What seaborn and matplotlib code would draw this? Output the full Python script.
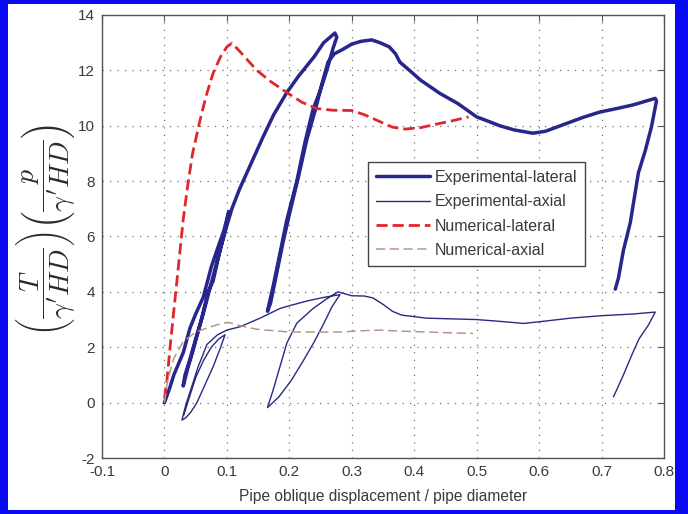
import matplotlib
matplotlib.use("Agg")
import matplotlib.pyplot as plt
from matplotlib.patches import Rectangle
import seaborn as sns

# Axis ticks and labels
x_ticks = [-0.1, 0.0, 0.1, 0.2, 0.3, 0.4, 0.5, 0.6, 0.7, 0.8]
x_tick_labels = ["-0.1", "0", "0.1", "0.2", "0.3", "0.4", "0.5", "0.6", "0.7", "0.8"]
y_ticks = [-2, 0, 2, 4, 6, 8, 10, 12, 14]
y_tick_labels = ["-2", "0", "2", "4", "6", "8", "10", "12", "14"]

# Experimental lateral test (load / unload / reload cycles)
exp_lat_x = [0.000, 0.008, 0.015, 0.030, 0.041, 0.050, 0.062, 0.068, 0.075, 0.084, 0.095, 0.103,
             0.099, 0.089, 0.076, 0.062, 0.050, 0.040, 0.033, 0.030,
             0.038, 0.046, 0.058, 0.070, 0.078, 0.089, 0.100, 0.108, 0.120, 0.140, 0.158, 0.175,
             0.196, 0.215, 0.240, 0.255, 0.268, 0.273, 0.276,
             0.270, 0.260, 0.250, 0.238, 0.225, 0.212, 0.196, 0.185, 0.175, 0.168, 0.165,
             0.170, 0.180, 0.190, 0.200, 0.215, 0.228, 0.242, 0.252, 0.262, 0.272,
             0.285, 0.300, 0.315, 0.332, 0.345, 0.360, 0.370, 0.377, 0.395, 0.410, 0.441,
             0.470, 0.500, 0.520, 0.537, 0.560, 0.590, 0.610, 0.640, 0.670, 0.698, 0.720,
             0.750, 0.786, 0.788, 0.780, 0.770, 0.759, 0.746, 0.735, 0.727, 0.722]
exp_lat_y = [0.00, 0.50, 1.00, 1.80, 2.70, 3.20, 3.80, 4.30, 4.90, 5.50, 6.20, 6.90,
             6.40, 5.50, 4.40, 3.20, 2.30, 1.50, 1.00, 0.60,
             1.30, 1.90, 2.90, 4.00, 4.40, 5.50, 6.40, 7.00, 7.70, 8.70, 9.60, 10.40,
             11.20, 11.80, 12.50, 13.00, 13.25, 13.35, 13.20,
             12.80, 12.00, 11.30, 10.60, 9.40, 8.00, 6.60, 5.40, 4.30, 3.60, 3.30,
             3.60, 4.70, 5.80, 6.80, 8.20, 9.50, 10.60, 11.50, 12.30, 12.60,
             12.75, 12.95, 13.05, 13.10, 13.00, 12.85, 12.60, 12.30, 11.95, 11.65, 11.17,
             10.80, 10.32, 10.15, 10.00, 9.85, 9.73, 9.80, 10.05, 10.30, 10.50, 10.60,
             10.75, 10.99, 10.90, 9.97, 9.10, 8.30, 6.50, 5.50, 4.50, 4.10]

# Experimental axial test
exp_ax_x = [0.031, 0.040, 0.050, 0.062, 0.075, 0.087, 0.097,
            0.090, 0.078, 0.064, 0.052, 0.042, 0.034, 0.028,
            0.034, 0.044, 0.054, 0.062, 0.068, 0.085, 0.100, 0.121, 0.153, 0.185, 0.200,
            0.230, 0.255, 0.281,
            0.268, 0.255, 0.240, 0.222, 0.203, 0.183, 0.165,
            0.174, 0.185, 0.196, 0.212, 0.238, 0.260, 0.278,
            0.300, 0.320, 0.334, 0.350, 0.365, 0.380, 0.420, 0.500, 0.540, 0.575, 0.600,
            0.650, 0.700, 0.750, 0.786,
            0.775, 0.760, 0.750, 0.735, 0.725, 0.719]
exp_ax_y = [-0.45, 0.20, 0.90, 1.50, 2.00, 2.30, 2.45,
            2.00, 1.30, 0.60, 0.00, -0.35, -0.55, -0.63,
            -0.10, 0.60, 1.30, 1.75, 2.10, 2.45, 2.62, 2.74, 3.05, 3.40, 3.50,
            3.68, 3.80, 3.90,
            3.45, 2.85, 2.20, 1.50, 0.80, 0.20, -0.18,
            0.45, 1.30, 2.15, 2.87, 3.40, 3.75, 4.00,
            3.86, 3.85, 3.78, 3.55, 3.30, 3.16, 3.05, 3.00, 2.93, 2.86, 2.92,
            3.05, 3.14, 3.20, 3.27,
            2.80, 2.30, 1.80, 1.00, 0.50, 0.21]

# Numerical lateral model
num_lat_x = [0.000, 0.004, 0.009, 0.014, 0.020, 0.025, 0.030, 0.037, 0.045, 0.057, 0.067,
             0.078, 0.090, 0.100, 0.108, 0.118, 0.130, 0.148, 0.170, 0.196, 0.220, 0.244,
             0.270, 0.300, 0.320, 0.345, 0.365, 0.385, 0.410, 0.440, 0.465, 0.487]
num_lat_y = [0.15, 0.80, 2.00, 3.10, 4.40, 5.50, 6.60, 7.80, 9.00, 10.20, 11.10,
             11.90, 12.50, 12.85, 12.98, 12.75, 12.45, 12.00, 11.60, 11.20, 10.85, 10.62,
             10.56, 10.55, 10.40, 10.15, 9.95, 9.88, 9.93, 10.08, 10.20, 10.32]

# Numerical axial model
num_ax_x = [0.000, 0.005, 0.015, 0.030, 0.050, 0.073, 0.090, 0.102, 0.121, 0.148, 0.200,
            0.250, 0.280, 0.320, 0.345, 0.380, 0.420, 0.460, 0.494]
num_ax_y = [0.00, 0.80, 1.60, 2.20, 2.55, 2.73, 2.85, 2.90, 2.78, 2.65, 2.55,
            2.55, 2.55, 2.60, 2.62, 2.58, 2.55, 2.52, 2.50]

sns.set_theme(style="white")
plt.rcParams.update({
    "font.family": ["Liberation Sans", "DejaVu Sans"],
    "mathtext.fontset": "cm",
    "axes.edgecolor": "#555555",
    "axes.linewidth": 1.0,
    "xtick.direction": "in",
    "ytick.direction": "in",
    "xtick.top": True,
    "ytick.right": True,
    "xtick.major.size": 4,
    "ytick.major.size": 4,
    "xtick.major.width": 0.8,
    "ytick.major.width": 0.8,
    "xtick.major.pad": 5,
    "ytick.major.pad": 5,
    "xtick.color": "#555555",
    "ytick.color": "#555555",
    "xtick.labelcolor": "#3a3a3a",
    "ytick.labelcolor": "#3a3a3a",
})

fig = plt.figure(figsize=(6.88, 5.14), dpi=100)
fig.patch.set_facecolor("#0a0af2")
fig.add_artist(Rectangle((8 / 688, 4 / 514), (675 - 8) / 688, (510 - 4) / 514,
                         transform=fig.transFigure, facecolor="white",
                         edgecolor="none", zorder=-1))

ax = fig.add_axes([102 / 688, 56 / 514, 562 / 688, 443 / 514])

navy = "#26268c"
sns.lineplot(x=exp_lat_x, y=exp_lat_y, sort=False, estimator=None, ax=ax,
             color=navy, lw=2.5, label="Experimental-lateral")
sns.lineplot(x=exp_ax_x, y=exp_ax_y, sort=False, estimator=None, ax=ax,
             color="#2a2a80", lw=1.0, label="Experimental-axial")
sns.lineplot(x=num_lat_x, y=num_lat_y, sort=False, estimator=None, ax=ax,
             color="#e0262b", lw=2.0, linestyle=(0, (4, 1.8)), label="Numerical-lateral")
sns.lineplot(x=num_ax_x, y=num_ax_y, sort=False, estimator=None, ax=ax,
             color="#b8958a", lw=1.1, linestyle=(0, (6, 3)), label="Numerical-axial")

ax.set_xlim(-0.1, 0.8)
ax.set_ylim(-2, 14)
ax.set_xticks(x_ticks)
ax.set_xticklabels(x_tick_labels, fontsize=11)
ax.set_yticks(y_ticks)
ax.set_yticklabels(y_tick_labels, fontsize=11)
ax.grid(True, linestyle=(0, (1, 5)), linewidth=0.9, color="#707070")

ax.set_xlabel("Pipe oblique displacement / pipe diameter", fontsize=11.2,
              color="#3a3a3a", labelpad=7)
ax.set_ylabel(r"$\left(\dfrac{T}{\gamma^{\prime}HD}\right)\left(\dfrac{p}{\gamma^{\prime}HD}\right)$",
              fontsize=20, color="#2a2a2a")
ax.yaxis.set_label_coords(-0.045, 0.515)

handles, labels = ax.get_legend_handles_labels()
leg = ax.legend(handles, labels, loc="upper left", bbox_to_anchor=(0.473, 0.668),
                fontsize=11.5, handlelength=3.4, handletextpad=0.3, labelspacing=0.58,
                borderpad=0.5, fancybox=False, framealpha=1, edgecolor="#444444",
                borderaxespad=0)
leg.get_frame().set_linewidth(1.0)
for t in leg.get_texts():
    t.set_color("#3a3a3a")

fig.savefig("out.png", dpi=100)
